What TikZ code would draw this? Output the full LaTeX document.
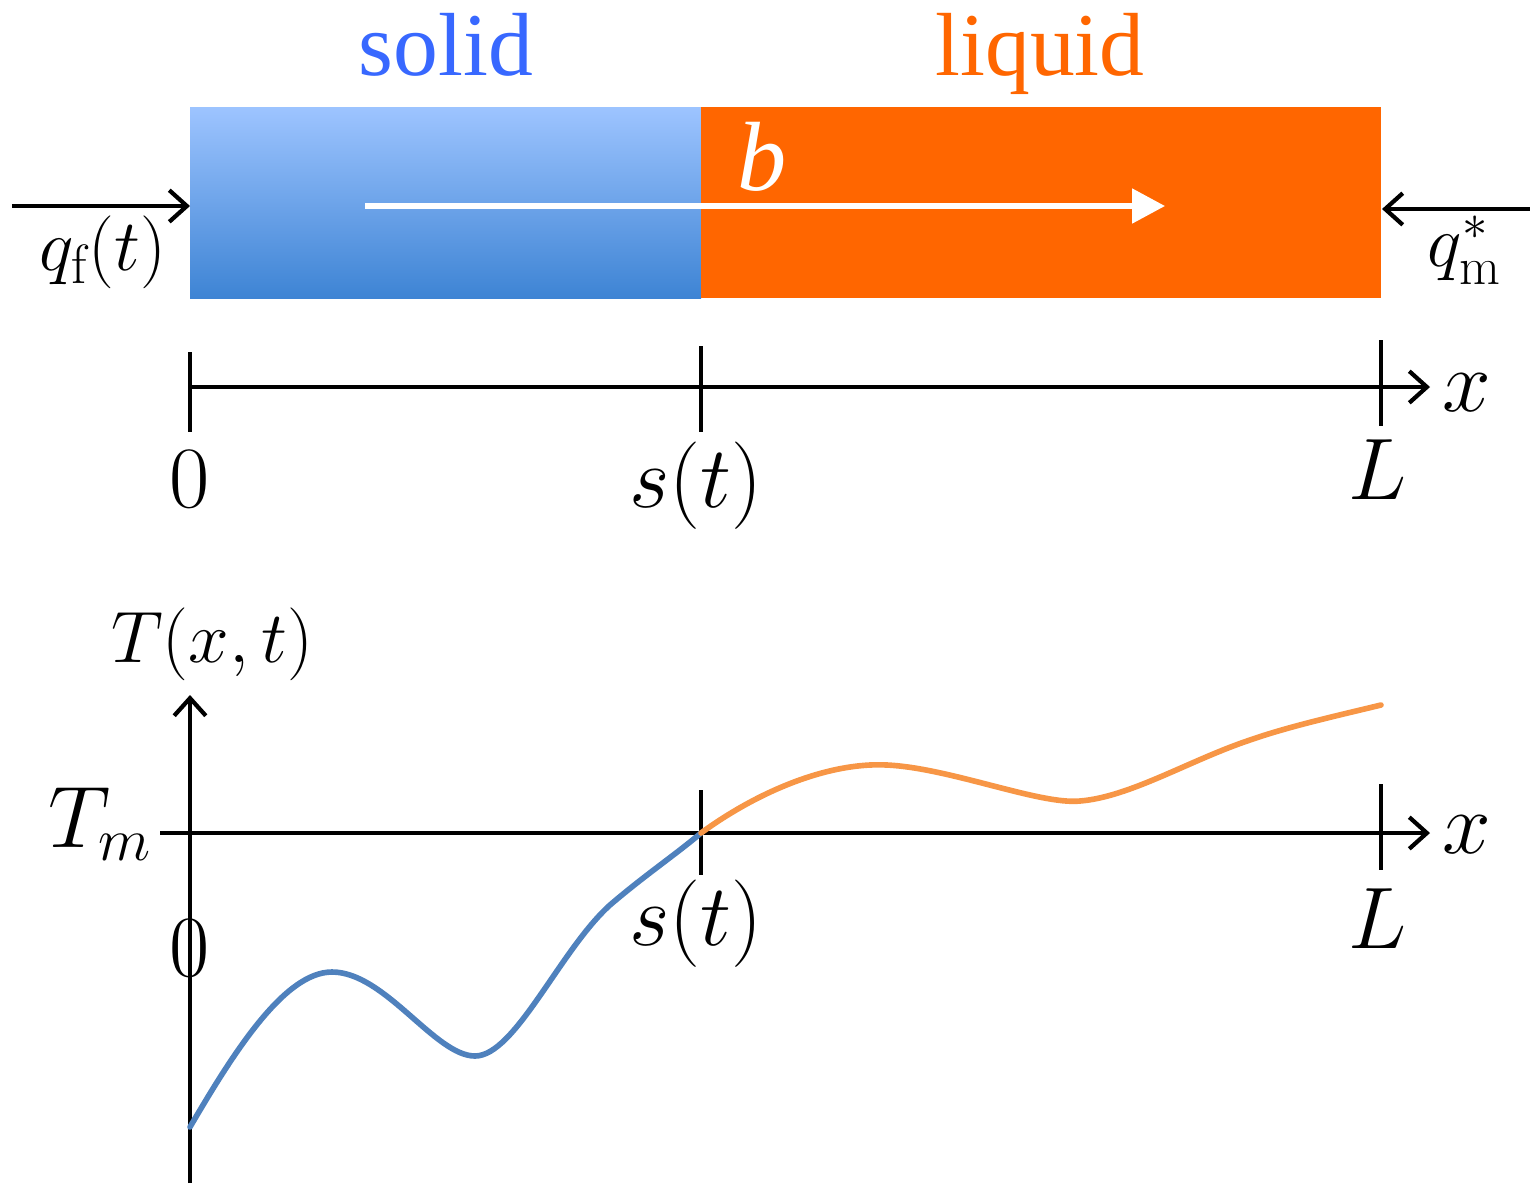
\documentclass[tikz,border=0pt]{standalone}
\usepackage{fontspec}
\usepackage{amsmath}
\usetikzlibrary{arrows.meta}
\newfontfamily\timesfont{Liberation Serif}
\definecolor{solidblue}{RGB}{56,104,255}
\definecolor{liquidorange}{RGB}{255,102,0}
\definecolor{icetop}{RGB}{157,196,255}
\definecolor{icebottom}{RGB}{62,132,212}
\definecolor{curveblue}{RGB}{79,129,189}
\definecolor{curveorange}{RGB}{247,150,70}
\tikzset{
  axis/.style={
    line width=1.2pt,
    color=black
  },
  axis arrow/.style={
    axis,
    -{Straight Barb[length=5pt,width=9pt]}
  },
  flux arrow/.style={
    axis,
    -{Straight Barb[length=5pt,width=9pt]}
  },
  phase label/.style={
    font=\timesfont\fontsize{25.5}{30}\selectfont,
    anchor=base
  },
  math label/.style={
    font=\fontsize{25}{30}\selectfont,
    anchor=base
  },
  profile/.style={
    line width=1.6pt,
    line cap=round
  }
}

\begin{document}
\begin{tikzpicture}[x=1cm, y=-1cm]
    % 1 unit = 100 px of the picture, y pointing down
    \useasboundingbox (0,0) rectangle (15.30,11.83);

    % rod: solid and liquid parts
    \shade[top color=icetop, bottom color=icebottom] (1.90,1.07) rectangle (7.01,2.98);
    \fill[liquidorange] (7.01,1.07) rectangle (13.81,2.98);
    \node[phase label, solidblue] (solid) at (4.46,0.75) {solid};
    \node[phase label, liquidorange] (liquid) at (10.40,0.75) {liquid};

    % front velocity
    \coordinate (b start) at (3.65,2.06);
    \coordinate (b end) at (11.65,2.06);
    \draw[white, line width=1.5pt, -{Triangle[length=0.33cm,width=0.34cm]}] (b start) -- (b end);
    \node[phase label, white, font=\timesfont\fontsize{28}{32}\selectfont] (b) at (7.62,1.90) {\itshape b};

    % heat fluxes at both ends
    \coordinate (qf tail) at (0.12,2.06);
    \coordinate (qf head) at (1.90,2.06);
    \coordinate (qm tail) at (15.30,2.09);
    \coordinate (qm head) at (13.82,2.09);
    \draw[flux arrow] (qf tail) -- (qf head);
    \draw[flux arrow] (qm tail) -- (qm head);
    \node[math label, font=\fontsize{22.5}{27}\selectfont] (qf) at (1.03,2.70) {$q_{\mathrm{f}}(t)$};
    \node[math label, font=\fontsize{21.5}{26}\selectfont] (qm) at (14.65,2.66) {$q_{\mathrm{m}}^{*}$};

    % x axis of the rod
    \coordinate (rod left) at (1.90,3.87);
    \coordinate (rod right) at (14.30,3.87);
    \draw[axis arrow] (rod left) -- (rod right);
    \draw[axis] (1.90,3.52) -- (1.90,4.32);
    \draw[axis] (7.01,3.46) -- (7.01,4.32);
    \draw[axis] (13.81,3.40) -- (13.81,4.26);
    \node[math label, font=\fontsize{27}{32}\selectfont] (rod x) at (14.67,4.11) {$x$};
    \node[math label] (rod zero) at (1.90,5.07) {$0$};
    \node[math label] (rod s) at (6.96,5.07) {$s(t)$};
    \node[math label] (rod L) at (13.78,4.99) {$L$};

    % temperature profile axes
    \coordinate (T bottom) at (1.90,11.83);
    \coordinate (T top) at (1.90,6.95);
    \coordinate (Tm left) at (1.60,8.33);
    \coordinate (Tm right) at (14.30,8.33);
    \draw[axis arrow] (T bottom) -- (T top);
    \draw[axis arrow] (Tm left) -- (Tm right);
    \draw[axis] (7.01,7.90) -- (7.01,8.75);
    \draw[axis] (13.81,7.84) -- (13.81,8.70);
    \node[math label, font=\fontsize{21.5}{26}\selectfont] (T label) at (2.12,6.62) {$T(x,t)$};
    \node[math label, anchor=base east] (Tm) at (1.65,8.47) {$T_m$};
    \node[math label, font=\fontsize{27}{32}\selectfont] (plot x) at (14.67,8.53) {$x$};
    \node[math label] (plot zero) at (1.90,9.76) {$0$};
    \node[math label] (plot s) at (6.96,9.45) {$s(t)$};
    \node[math label] (plot L) at (13.78,9.48) {$L$};

    % solid and liquid temperature
    \draw[profile, curveblue] (1.90,11.27) .. controls (2.35,10.50) and (2.85,9.72) .. (3.32,9.72)
      .. controls (3.85,9.72) and (4.35,10.56) .. (4.75,10.56)
      .. controls (5.15,10.56) and (5.60,9.50) .. (6.10,9.05)
      .. controls (6.45,8.75) and (6.75,8.55) .. (7.01,8.33);
    \draw[profile, curveorange] (7.01,8.33) .. controls (7.60,7.90) and (8.30,7.62) .. (8.87,7.65)
      .. controls (9.50,7.68) and (10.40,8.05) .. (10.80,8.01)
      .. controls (11.30,7.97) and (11.90,7.60) .. (12.50,7.40)
      .. controls (12.90,7.26) and (13.40,7.15) .. (13.81,7.05);

  \end{tikzpicture}
\end{document}
